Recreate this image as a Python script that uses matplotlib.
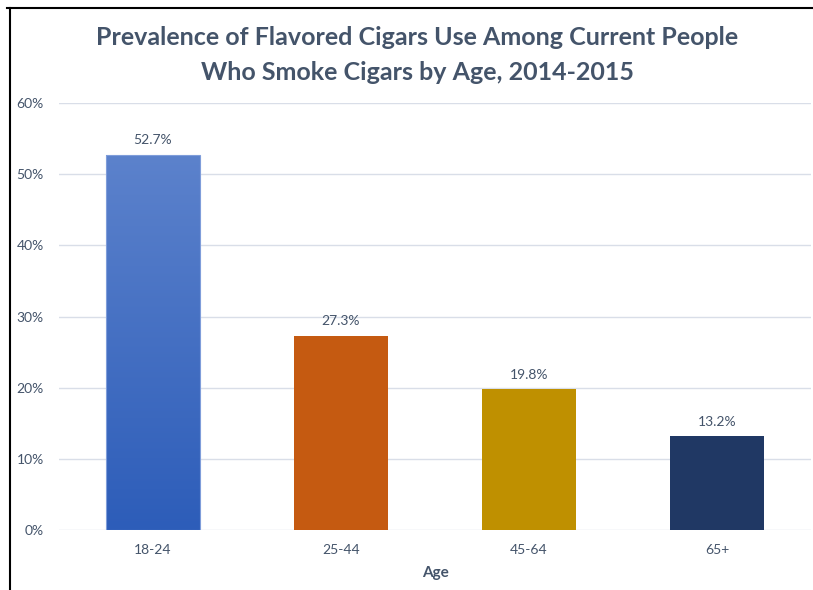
import numpy as np
import matplotlib.pyplot as plt
from matplotlib.lines import Line2D
from matplotlib.colors import LinearSegmentedColormap

# Chart data
ages = ["18-24", "25-44", "45-64", "65+"]
prevalence = [52.7, 27.3, 19.8, 13.2]
bar_colors = ["#3E6CC4", "#C55A11", "#BF9000", "#203864"]

plt.rcParams['font.family'] = ['Lato', 'DejaVu Sans']

fig = plt.figure(figsize=(8.13, 5.9), dpi=100)
ax = fig.add_axes([59 / 813, 60 / 590, 752 / 813, 427 / 590])

x = np.arange(len(ages))
bars = ax.bar(x, prevalence, width=0.5, color=bar_colors, zorder=2)

# gradient on the first bar
b = bars[0]
bx, by = b.get_x(), b.get_y()
bw, bh = b.get_width(), b.get_height()
grad = np.linspace(0, 1, 256).reshape(-1, 1)
cmap = LinearSegmentedColormap.from_list("g", ["#2D5DB9", "#5C82CC"])
img = ax.imshow(grad, extent=[bx, bx + bw, by, by + bh], origin="lower",
                aspect="auto", cmap=cmap, zorder=3)
img.set_clip_path(b)
b.set_facecolor("none")
b.set_edgecolor("#7F9DDA")
b.set_linewidth(0.8)
b.set_zorder(4)

for xi, v in zip(x, prevalence):
    ax.text(xi, v + 1.2, f"{v:.1f}%", ha="center", va="bottom",
            fontsize=10, color="#44546A")

ax.set_xlim(-0.5, len(ages) - 0.5)
ax.set_ylim(0, 60)
ax.set_yticks(np.arange(0, 61, 10))
ax.set_yticklabels([f"{t}%" for t in range(0, 61, 10)])
ax.set_xticks(x)
ax.set_xticklabels(ages)
ax.tick_params(axis="both", length=0, labelsize=10, labelcolor="#44546A")
ax.tick_params(axis="x", pad=10)
ax.tick_params(axis="y", pad=11)
ax.grid(axis="y", color="#D9DEE8", linewidth=1, zorder=0)
for s in ax.spines.values():
    s.set_visible(False)
ax.set_xlabel("Age", fontsize=11, fontweight="bold", color="#44546A", labelpad=7)

fig.text(417 / 813, 1 - 55 / 590,
         "Prevalence of Flavored Cigars Use Among Current People\nWho Smoke Cigars by Age, 2014-2015",
         ha="center", va="center", fontsize=18, fontweight="bold",
         color="#44546A", linespacing=1.65)

# frame lines along top and left
fig.add_artist(Line2D([7 / 813, 1], [1 - 8 / 590, 1 - 8 / 590], color="black", lw=1.5))
fig.add_artist(Line2D([10 / 813, 10 / 813], [0, 1 - 8 / 590], color="black", lw=1.5))

fig.savefig("out.png", dpi=100)
